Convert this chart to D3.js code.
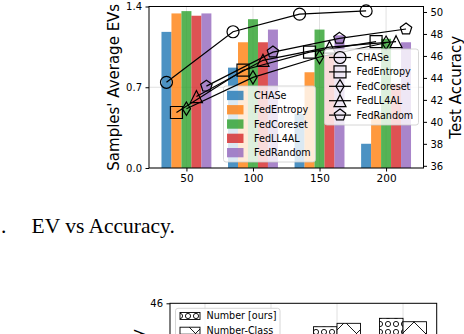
<!DOCTYPE html>
<html><head><meta charset="utf-8">
<script src="https://cdn.jsdelivr.net/npm/d3@7"></script>
<style>body{margin:0;background:#fff}svg{display:block}text{font-family:"DejaVu Sans",sans-serif;fill:#000}</style>
</head><body><svg id="c" width="464" height="334"></svg>
<script>
// ---------- data (top chart) ----------
const rounds = [50, 100, 150, 200];
const methods = ["CHASe", "FedEntropy", "FedCoreset", "FedLL4AL", "FedRandom"];
const evCHASe      = [1.18, 0.87, 0.47, 0.21];
const evFedEntropy = [1.34, 1.09, 0.83, 0.47];
const evFedCoreset = [1.36, 1.29, 1.20, 1.12];
const evFedLL4AL   = [1.32, 1.09, 0.98, 0.73];
const evFedRandom  = [1.34, 1.20, 1.15, 1.09];
const accCHASe      = [43.6, 48.2, 49.8, 50.1];
const accFedEntropy = [40.85, 44.7, 46.35, 47.3];
const accFedCoreset = [41.2, 44.05, 45.9, 47.2];
const accFedLL4AL   = [42.3, 45.6, 46.8, 47.3];
const accFedRandom  = [43.25, 46.35, 47.6, 48.45];
const leftTicks = [0.0, 0.7, 1.4];
const rightTicks = [36, 38, 40, 42, 44, 46, 48, 50];
const caption = "EV vs Accuracy.";
// ---------- data (bottom chart, partly visible) ----------
const bottomMethods = ["Number [ours]", "Number-Class"];
const bottomOurs  = [42.0, 43.0, 44.55, 45.07];
const bottomClass = [42.5, 43.2, 44.76, 44.86];
const bottomTicks = [46];

const evSeries = [evCHASe, evFedEntropy, evFedCoreset, evFedLL4AL, evFedRandom];
const accSeries = [accCHASe, accFedEntropy, accFedCoreset, accFedLL4AL, accFedRandom];
const colors = ["#1f77b4", "#ff7f0e", "#2ca02c", "#d62728", "#9467bd"];
const markers = ["circle", "square", "thin_diamond", "triangle", "pentagon"];

const svg = d3.select("#c");
const L = 149, R = 423.5, T = 6.5, B = 168;
const barW = 7.5;
const x = d3.scaleLinear().domain([21.875, 228.125]).range([L, R]);
const yL = d3.scaleLinear().domain([0, 1.4]).range([B, T]);
const yR = d3.scaleLinear().domain([35.8, 50.5]).range([B, T]);

function markerPath(type, s) {
  const h = s / 2;
  if (type === "circle") return `M${h},0A${h},${h} 0 1 1 ${-h},0A${h},${h} 0 1 1 ${h},0Z`;
  if (type === "square") return `M${-h},${-h}H${h}V${h}H${-h}Z`;
  if (type === "thin_diamond") { const a = h * 1.12, b = h * 0.68; return `M0,${-a}L${b},0L0,${a}L${-b},0Z`; }
  if (type === "triangle") return `M0,${-h}L${h},${h}L${-h},${h}Z`;
  if (type === "pentagon") {
    const pts = d3.range(5).map(k => { const ang = -Math.PI / 2 + k * 2 * Math.PI / 5; return [h * Math.cos(ang), h * Math.sin(ang)]; });
    return "M" + pts.map(p => p.join(",")).join("L") + "Z";
  }
}

// grid (below bars)
const grid = svg.append("g").attr("stroke", "#d9d9d9").attr("stroke-width", 0.8);
rounds.forEach(r => grid.append("line").attr("x1", x(r)).attr("x2", x(r)).attr("y1", T).attr("y2", B));
leftTicks.forEach(t => grid.append("line").attr("x1", L).attr("x2", R).attr("y1", yL(t)).attr("y2", yL(t)));

// bars
methods.forEach((m, i) => {
  svg.append("g").selectAll("rect").data(rounds).join("rect")
    .attr("x", (r) => x(r + (i - 2) * barW - barW / 2))
    .attr("width", x(barW) - x(0))
    .attr("y", (r, j) => yL(evSeries[i][j]))
    .attr("height", (r, j) => yL(0) - yL(evSeries[i][j]))
    .attr("fill", colors[i]).attr("fill-opacity", 0.8);
});

// left legend (bars)
const lg1 = svg.append("g");
lg1.append("rect").attr("x", 223.5).attr("y", 86).attr("width", 92).attr("height", 76).attr("rx", 2.5)
  .attr("fill", "#fff").attr("fill-opacity", 0.8).attr("stroke", "#cccccc").attr("stroke-width", 0.8);
methods.forEach((m, i) => {
  const cy = 95.5 + i * 14.3;
  lg1.append("rect").attr("x", 227).attr("y", cy - 4.7).attr("width", 16.5).attr("height", 9.3).attr("fill", colors[i]).attr("fill-opacity", 0.8);
  lg1.append("text").attr("x", 254).attr("y", cy).attr("dy", "0.36em").attr("font-size", 9.6).text(m);
});

// lines (twin axis)
methods.forEach((m, i) => {
  const off = (i - 2) * barW;
  const pts = rounds.map((r, j) => [x(r + off), yR(accSeries[i][j])]);
  svg.append("path").attr("d", d3.line()(pts)).attr("fill", "none").attr("stroke", "#000").attr("stroke-width", 1.2);
  svg.append("g").selectAll("path").data(pts).join("path")
    .attr("transform", p => `translate(${p[0]},${p[1]})`)
    .attr("d", markerPath(markers[i], 12)).attr("fill", "none").attr("stroke", "#000").attr("stroke-width", 1.2);
});

// right legend (lines)
const lg2 = svg.append("g");
lg2.append("rect").attr("x", 324.5).attr("y", 49).attr("width", 94).attr("height", 76).attr("rx", 2.5)
  .attr("fill", "#fff").attr("fill-opacity", 0.8).attr("stroke", "#cccccc").attr("stroke-width", 0.8);
methods.forEach((m, i) => {
  const cy = 57.5 + i * 14.4;
  lg2.append("line").attr("x1", 329).attr("x2", 351).attr("y1", cy).attr("y2", cy).attr("stroke", "#000").attr("stroke-width", 1.2);
  lg2.append("path").attr("transform", `translate(340,${cy})`).attr("d", markerPath(markers[i], 12)).attr("fill", "none").attr("stroke", "#000").attr("stroke-width", 1.2);
  lg2.append("text").attr("x", 356.5).attr("y", cy).attr("dy", "0.36em").attr("font-size", 9.6).text(m);
});

// frame
svg.append("rect").attr("x", L).attr("y", T).attr("width", R - L).attr("height", B - T).attr("fill", "none").attr("stroke", "#000").attr("stroke-width", 1);

// axes
function styleAxis(g, fs) { g.select(".domain").remove(); g.selectAll("text").attr("font-size", fs).attr("fill", "#000"); g.selectAll("line").attr("stroke", "#000"); }
svg.append("g").attr("transform", `translate(${L},0)`)
  .call(d3.axisLeft(yL).tickValues(leftTicks).tickFormat(d3.format(".1f")).tickSize(3.5).tickPadding(3.5)).call(g => styleAxis(g, 10));
svg.append("g").attr("transform", `translate(${R},0)`)
  .call(d3.axisRight(yR).tickValues(rightTicks).tickSize(3.5).tickPadding(3.5)).call(g => styleAxis(g, 10));
svg.append("g").attr("transform", `translate(0,${B})`)
  .call(d3.axisBottom(x).tickValues(rounds).tickSize(3.5).tickPadding(3.5)).call(g => styleAxis(g, 10.5));

svg.append("text").attr("transform", `translate(118.5,${(T + B) / 2}) rotate(-90)`).attr("text-anchor", "middle").attr("font-size", 15).text("Samples' Average EVs");
svg.append("text").attr("transform", `translate(460.5,${(T + B) / 2}) rotate(-90)`).attr("text-anchor", "middle").attr("font-size", 15).text("Test Accuracy");

// caption (serif)
const serif = '"Liberation Serif", "Times New Roman", serif';
svg.append("text").attr("x", 1).attr("y", 233).style("font-family", serif).attr("font-size", 21.5).text(".");
svg.append("text").attr("x", 31.5).attr("y", 233).style("font-family", serif).attr("font-size", 21.5).text(caption);

// ---------- bottom chart (partial) ----------
const defs = svg.append("defs");
const pO = defs.append("pattern").attr("id", "hO").attr("patternUnits", "userSpaceOnUse").attr("width", 8).attr("height", 8);
pO.append("circle").attr("cx", 4).attr("cy", 4).attr("r", 2.6).attr("fill", "none").attr("stroke", "#000").attr("stroke-width", 0.9);
const pX = defs.append("pattern").attr("id", "hX").attr("patternUnits", "userSpaceOnUse").attr("width", 23).attr("height", 23);
pX.append("path").attr("d", "M0,0L23,23M23,0L0,23").attr("stroke", "#000").attr("stroke-width", 0.9);

const L2 = 170, R2 = 436.7, T2 = 303.3, B2 = 464.8;
const x2 = d3.scaleLinear().domain([23.5, 225.5]).range([L2, R2]);
const y2 = d3.scaleLinear().domain([36, 46]).range([B2, T2]);
const bw2 = 17.8;
const g2 = svg.append("g");
rounds.forEach(r => g2.append("line").attr("x1", x2(r)).attr("x2", x2(r)).attr("y1", T2).attr("y2", B2).attr("stroke", "#d9d9d9").attr("stroke-width", 0.8));
[[bottomOurs, "hO", -1], [bottomClass, "hX", 0]].forEach(([vals, pat, k]) => {
  g2.append("g").selectAll("rect").data(rounds).join("rect")
    .attr("x", r => x2(r + k * bw2)).attr("width", x2(bw2) - x2(0))
    .attr("y", (r, j) => y2(vals[j])).attr("height", (r, j) => y2(36) - y2(vals[j]))
    .attr("fill", "#fff").attr("stroke", "#000").attr("stroke-width", 0.9);
  g2.append("g").selectAll("rect").data(rounds).join("rect")
    .attr("x", r => x2(r + k * bw2)).attr("width", x2(bw2) - x2(0))
    .attr("y", (r, j) => y2(vals[j])).attr("height", (r, j) => y2(36) - y2(vals[j]))
    .attr("fill", `url(#${pat})`);
});
const lg3 = g2.append("g");
lg3.append("rect").attr("x", 175.5).attr("y", 308.3).attr("width", 104.5).attr("height", 40).attr("rx", 2.5)
  .attr("fill", "#fff").attr("fill-opacity", 0.8).attr("stroke", "#cccccc").attr("stroke-width", 0.8);
bottomMethods.forEach((m, i) => {
  const cy = 316 + i * 14.7;
  lg3.append("rect").attr("x", 180).attr("y", cy - 3.5).attr("width", 20).attr("height", 7).attr("fill", "#fff").attr("stroke", "#000").attr("stroke-width", 0.9);
  lg3.append("rect").attr("x", 180).attr("y", cy - 3.5).attr("width", 20).attr("height", 7).attr("fill", i === 0 ? "url(#hO)" : "url(#hX)");
  lg3.append("text").attr("x", 206.5).attr("y", cy).attr("dy", "0.36em").attr("font-size", 9.6).text(m);
});
g2.append("rect").attr("x", L2).attr("y", T2).attr("width", R2 - L2).attr("height", B2 - T2).attr("fill", "none").attr("stroke", "#000").attr("stroke-width", 1);
g2.append("g").attr("transform", `translate(${L2},0)`)
  .call(d3.axisLeft(y2).tickValues(bottomTicks).tickSize(3.5).tickPadding(3.5)).call(g => styleAxis(g, 10));
g2.append("text").attr("transform", "translate(143,329) rotate(-90)").attr("text-anchor", "end").attr("font-size", 15).text("Test Accuracy");
</script></body></html>
